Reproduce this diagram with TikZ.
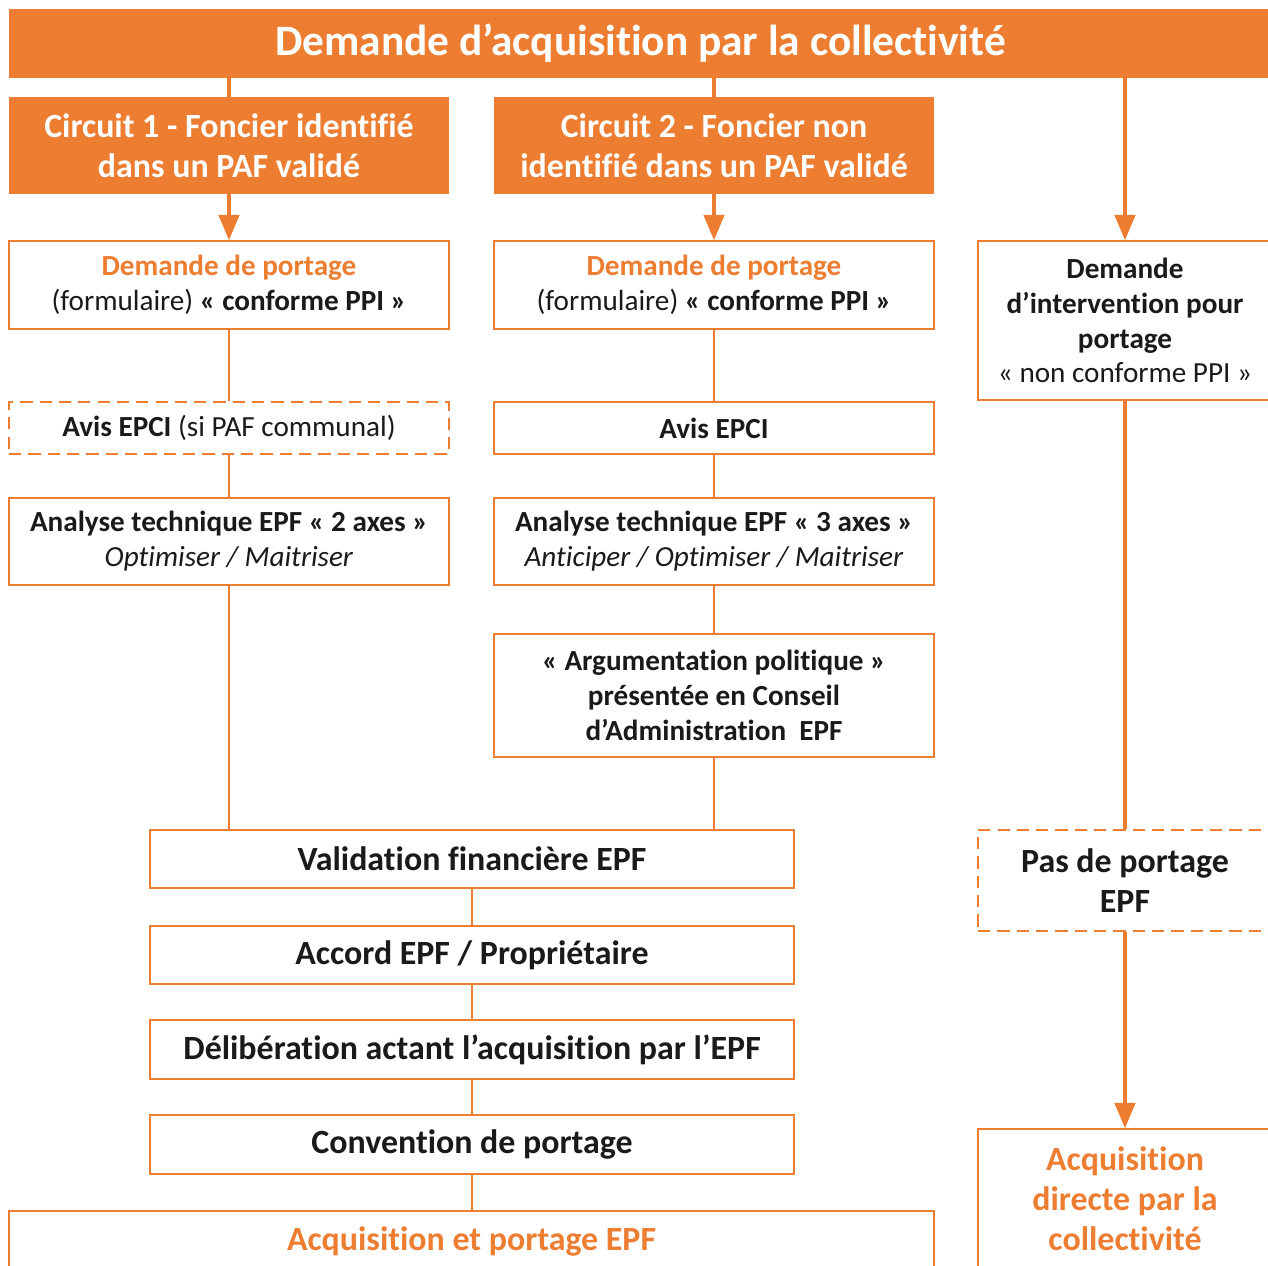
\documentclass[tikz,border=0pt]{standalone}
\usepackage{fontspec}
\setmainfont{Carlito}[Ligatures=NoCommon]
\usepackage{tikz}
\usetikzlibrary{arrows}
\definecolor{epforange}{HTML}{ED7D31}
\definecolor{epftext}{HTML}{1A1A1A}

\begin{document}
\begin{tikzpicture}[> = triangle 45, % arrow head style
	x=0.02cm, y=-0.02cm, % one unit = one pixel of the sketch
	textsmall/.style={font=\fontsize{16.6}{19.8}\selectfont},
	textbig/.style={font=\fontsize{19.3}{22.7}\selectfont\bfseries},
	headbox/.style={rectangle, fill=epforange, text=white, align=center, inner sep=0pt, textbig},
	stepbox/.style={rectangle, draw=epforange, line width=1.1pt, fill=white, text=epftext, align=center, inner sep=0pt, textsmall},
	dashbox/.style={stepbox, dashed, dash pattern=on 7pt off 4pt},
	thinlink/.style={draw=epforange, line width=1.1pt},
	thicklink/.style={draw=epforange, line width=2.4pt}]
	\useasboundingbox (0,0) rectangle (1268,1265);
	\clip (0,0) rectangle (1268,1265);

	% title and the two circuits
	\node[headbox, minimum width=25.26cm, minimum height=1.38cm, font=\fontsize{24.7}{29}\selectfont\bfseries] (titre) at (640.5,43.5)
		{Demande d’acquisition par la collectivité};
	\node[headbox, minimum width=8.8cm, minimum height=1.94cm] (circ1) at (229,145.5)
		{Circuit 1 - Foncier identifié\\dans un PAF validé};
	\node[headbox, minimum width=8.8cm, minimum height=1.94cm] (circ2) at (714,145.5)
		{Circuit 2 - Foncier non\\identifié dans un PAF validé};

	% circuit 1
	\node[stepbox, minimum width=8.8cm, minimum height=1.76cm] (dem1) at (229,285)
		{{\color{epforange}\bfseries Demande de portage}\\(formulaire) \textbf{«~conforme PPI~»}};
	\node[dashbox, minimum width=8.8cm, minimum height=1.04cm] (avis1) at (229,428)
		{\textbf{Avis EPCI} (si PAF communal)};
	\node[stepbox, minimum width=8.8cm, minimum height=1.74cm] (ana1) at (229,541.5)
		{\textbf{Analyse technique EPF «~2 axes~»}\\\textit{Optimiser / Maitriser}};

	% circuit 2
	\node[stepbox, minimum width=8.8cm, minimum height=1.76cm] (dem2) at (714,285)
		{{\color{epforange}\bfseries Demande de portage}\\(formulaire) \textbf{«~conforme PPI~»}};
	\node[stepbox, minimum width=8.8cm, minimum height=1.04cm] (avis2) at (714,428)
		{\textbf{Avis EPCI}};
	\node[stepbox, minimum width=8.8cm, minimum height=1.74cm] (ana2) at (714,541.5)
		{\textbf{Analyse technique EPF «~3 axes~»}\\\textit{Anticiper / Optimiser / Maitriser}};
	\node[stepbox, minimum width=8.8cm, minimum height=2.46cm, font=\fontsize{16.6}{19.8}\selectfont\bfseries] (argu) at (714,695.5)
		{«~Argumentation politique~»\\présentée en Conseil\\d’Administration~~EPF};

	% common steps
	\node[stepbox, minimum width=12.9cm, minimum height=1.16cm, textbig] (valid) at (472,859)
		{Validation financière EPF};
	\node[stepbox, minimum width=12.9cm, minimum height=1.16cm, textbig] (accord) at (472,955)
		{Accord EPF / Propriétaire};
	\node[stepbox, minimum width=12.9cm, minimum height=1.18cm, textbig] (delib) at (472,1049.5)
		{Délibération actant l’acquisition par l’EPF};
	\node[stepbox, minimum width=12.9cm, minimum height=1.18cm, textbig] (conv) at (472,1144.5)
		{Convention de portage};
	\node[stepbox, minimum width=18.5cm, minimum height=1.2cm, textbig, text=epforange] (acqepf) at (471.5,1241)
		{Acquisition et portage EPF};

	% out of the PPI
	\node[stepbox, minimum width=5.88cm, minimum height=3.18cm] (dem3) at (1125,320.5)
		{\textbf{Demande}\\\textbf{d’intervention pour}\\\textbf{portage}\\«~non conforme PPI~»};
	\node[dashbox, minimum width=5.88cm, minimum height=2.02cm, textbig] (pasport) at (1125,880.5)
		{Pas de portage\\EPF};
	\node[stepbox, minimum width=5.88cm, minimum height=2.8cm, textbig, text=epforange] (directe) at (1125,1199)
		{Acquisition\\directe par la\\collectivité};

	\draw [thicklink] (circ1.north) -- (circ1.north |- titre.south);
	\draw [thicklink] (circ2.north) -- (circ2.north |- titre.south);
	\draw [thicklink, ->] (circ1.south) -- (dem1.north);
	\draw [thicklink, ->] (circ2.south) -- (dem2.north);
	\draw [thicklink, ->] (dem3.north |- titre.south) -- (dem3.north);

	\draw [thinlink] (dem1.south) -- (avis1.north);
	\draw [thinlink] (avis1.south) -- (ana1.north);
	\draw [thinlink] (ana1.south) -- (ana1.south |- valid.north);
	\draw [thinlink] (dem2.south) -- (avis2.north);
	\draw [thinlink] (avis2.south) -- (ana2.north);
	\draw [thinlink] (ana2.south) -- (argu.north);
	\draw [thinlink] (argu.south) -- (argu.south |- valid.north);
	\draw [thinlink] (valid.south) -- (accord.north);
	\draw [thinlink] (accord.south) -- (delib.north);
	\draw [thinlink] (delib.south) -- (conv.north);
	\draw [thinlink] (conv.south) -- (conv.south |- acqepf.north);

	\draw [thicklink] (dem3.south) -- (pasport.north);
	\draw [thicklink, ->] (pasport.south) -- (directe.north);
\end{tikzpicture}
\end{document}
